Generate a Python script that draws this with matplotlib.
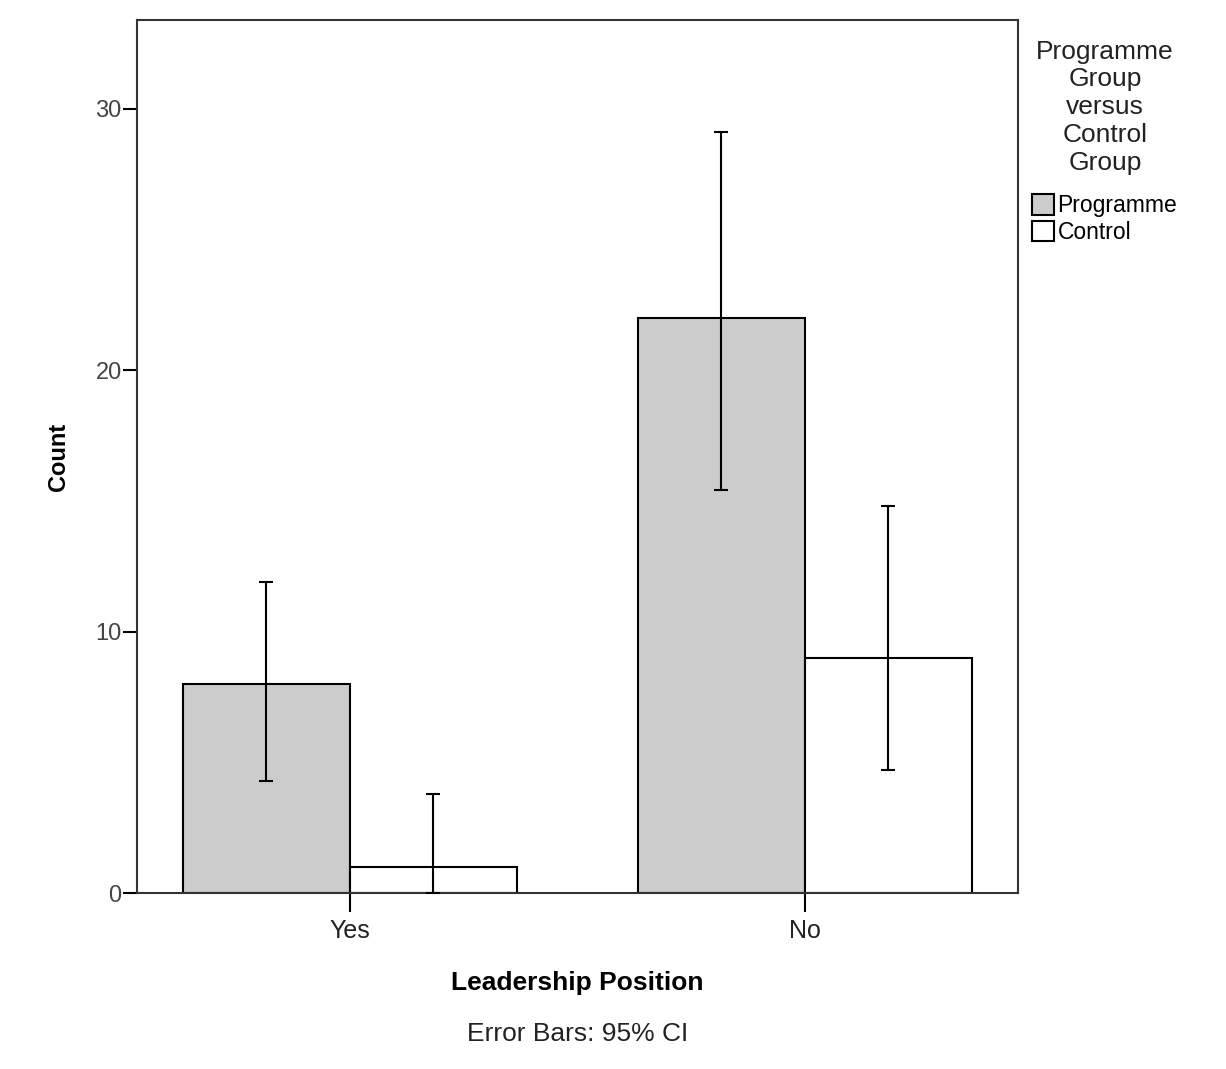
import numpy as np
import matplotlib
matplotlib.use("Agg")
import matplotlib.pyplot as plt

plt.rcParams["font.family"] = ["Liberation Sans", "DejaVu Sans"]

# counts by leadership position, with 95% CI bounds
categories = ["Yes", "No"]
groups = ["Programme", "Control"]
programme_counts = [8, 22]
control_counts = [1, 9]
programme_ci_low = [4.3, 15.4]
programme_ci_high = [11.9, 29.1]
control_ci_low = [0.0, 4.7]
control_ci_high = [3.8, 14.8]


def draw_chart():
    fig = plt.figure(figsize=(12.26, 10.69), dpi=100)
    ax = fig.add_axes([0.1117, 0.1646, 0.7186, 0.8167])

    x = np.arange(len(categories))
    width = 0.367

    series = [
        (programme_counts, programme_ci_low, programme_ci_high, "#cccccc", -width / 2),
        (control_counts, control_ci_low, control_ci_high, "white", width / 2),
    ]
    for (counts, lo, hi, color, offset), name in zip(series, groups):
        counts = np.array(counts, dtype=float)
        pos = x + offset
        ax.bar(pos, counts, width=width, color=color, edgecolor="black",
               linewidth=1.5, label=name, zorder=2)
        yerr = np.vstack([counts - np.array(lo), np.array(hi) - counts])
        ax.errorbar(pos, counts, yerr=yerr, fmt="none", ecolor="black",
                    elinewidth=1.5, capsize=5, capthick=1.5, zorder=3)

    ax.set_xlim(-0.468, 1.468)
    ax.set_ylim(0, 33.4)
    ax.set_xticks(x)
    ax.set_xticklabels(categories, fontsize=18, color="#222222")
    ax.set_yticks([0, 10, 20, 30])
    ax.set_yticklabels(["0", "10", "20", "30"], fontsize=17, color="#444444")
    ax.tick_params(axis="x", length=14, width=1.5, pad=5)
    ax.tick_params(axis="y", length=10, width=1.5, pad=1)
    for spine in ax.spines.values():
        spine.set_linewidth(1.5)
        spine.set_color("#333333")

    ax.set_ylabel("Count", fontsize=17, fontweight="bold", labelpad=18)
    ax.set_xlabel("Leadership Position", fontsize=19, fontweight="bold",
                  labelpad=20)
    fig.text(0.471, 0.033, "Error Bars: 95% CI", fontsize=19, ha="center",
             va="center", color="#222222")

    leg = fig.legend(loc="upper left", bbox_to_anchor=(0.829, 0.978),
                     title="Programme\nGroup\nversus\nControl\nGroup",
                     title_fontsize=19, fontsize=16.5, frameon=False,
                     handlelength=0.95, handleheight=1.0, handletextpad=0.15,
                     labelspacing=0.15, borderpad=0.2)
    title = leg.get_title()
    title.set_multialignment("center")
    title.set_linespacing(1.2)
    title.set_color("#222222")
    leg._legend_box.sep = 14

    fig.savefig("out.png", dpi=100, facecolor="white")


if __name__ == "__main__":
    draw_chart()
